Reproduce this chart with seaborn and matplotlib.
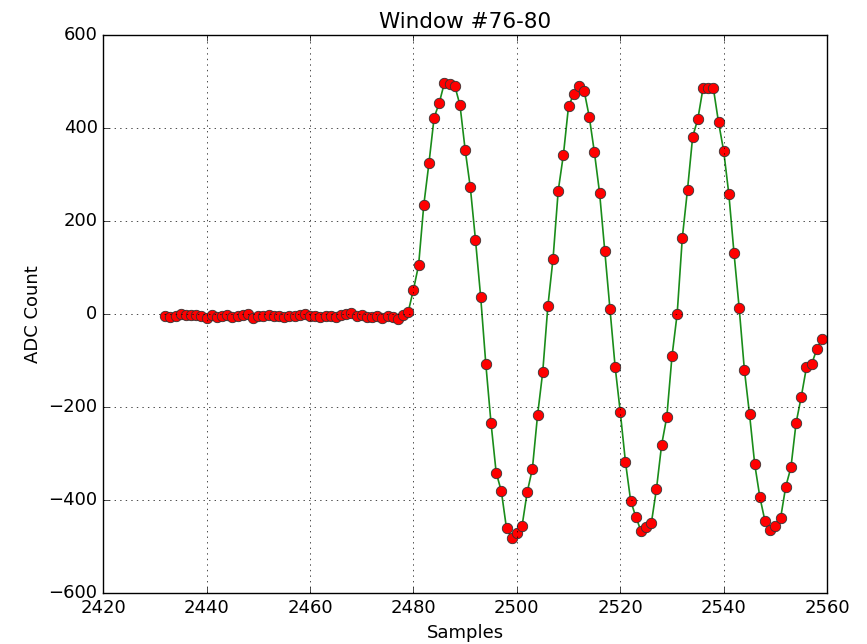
import matplotlib
matplotlib.use("Agg")
import matplotlib.pyplot as plt
import numpy as np
import pandas as pd
import seaborn as sns

# ADC samples for window #76-80
sample_start = 2432
adc_counts = [
    -5, -6, -5, 0, -2, -3, -3, -5, -8, -3,
    -6, -5, -2, -6, -5, -3, -1, -8, -5, -4,
    -2, -5, -4, -6, -5, -4, -2, -1, -5, -4,
    -6, -5, -4, -6, -3, 0, 2, -5, -3, -6,
    -6, -5, -8, -4, -6, -10, -3, 5, 52, 105,
    234, 324, 422, 454, 497, 495, 490, 449, 353, 272,
    159, 37, -108, -234, -341, -381, -461, -481, -470, -456,
    -383, -333, -218, -125, 17, 119, 265, 342, 447, 472,
    489, 480, 424, 347, 260, 135, 10, -113, -211, -318,
    -401, -436, -466, -458, -450, -376, -281, -221, -91, 0,
    164, 267, 381, 419, 485, 485, 485, 412, 350, 257,
    130, 12, -120, -216, -323, -394, -446, -465, -456, -439,
    -371, -330, -234, -178, -115, -108, -76, -53,
]
samples = list(range(sample_start, sample_start + len(adc_counts)))

x_ticks = [2420, 2440, 2460, 2480, 2500, 2520, 2540, 2560]
y_ticks = [-600, -400, -200, 0, 200, 400, 600]

df = pd.DataFrame({"Samples": samples, "ADC Count": adc_counts})

plt.style.use("classic")
fig = plt.figure(figsize=(8.67, 6.44), dpi=100, facecolor="white")
ax = fig.add_axes([0.119, 0.079, 0.835, 0.867])
ax.set_facecolor("white")

sns.lineplot(
    data=df, x="Samples", y="ADC Count", ax=ax,
    color=(0.1, 0.55, 0.1), linewidth=1.2,
    marker="o", markersize=7.5, markerfacecolor="red",
    markeredgecolor="#333333", markeredgewidth=0.6,
)

ax.set_xlim(2420, 2560)
ax.set_ylim(-600, 600)
ax.set_xticks(x_ticks)
ax.set_yticks(y_ticks)
ax.set_yticklabels(["\u2212600", "\u2212400", "\u2212200", "0", "200", "400", "600"])
ax.grid(True, linestyle=":", color="black", linewidth=0.5)
ax.tick_params(labelsize=13)
ax.set_xlabel("Samples", fontsize=13)
ax.set_ylabel("ADC Count", fontsize=13)
ax.set_title("Window #76-80", fontsize=15.5)

fig.savefig("out.png", dpi=100, facecolor="white")
